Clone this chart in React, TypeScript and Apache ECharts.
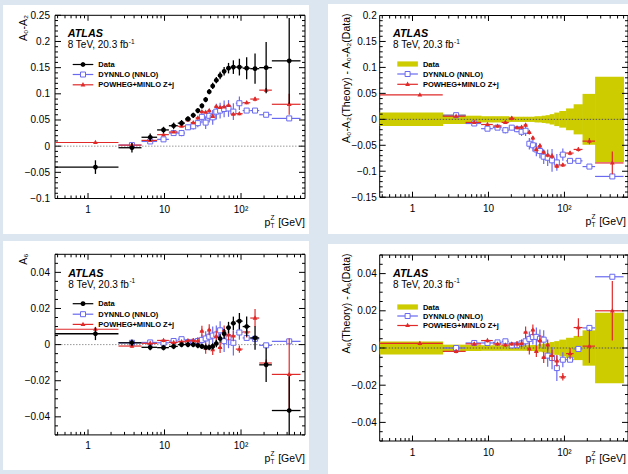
import React, { useEffect, useRef } from 'react';
import * as echarts from 'echarts';

// ---------- data ----------
const binEdges = [0, 2.5, 5, 8, 11.4, 14.9, 18.5, 22, 25.5, 29, 32.6, 36.4, 40.4, 44.9, 50.2, 56.4, 63.9, 73.4, 85.4, 105, 132, 173, 253, 600];
const binCenters = [1.25, 3.75, 6.5, 9.7, 13.15, 16.7, 20.25, 23.75, 27.25, 30.8, 34.5, 38.4, 42.65, 47.55, 53.3, 60.15, 68.65, 79.4, 95.2, 118.5, 152.5, 213, 426.5];

// A0-A2
const a02Data = [-0.040, -0.003, 0.017, 0.031, 0.039, 0.044, 0.052, 0.059, 0.068, 0.077, 0.089, 0.104, 0.115, 0.126, 0.135, 0.143, 0.149, 0.151, 0.151, 0.149, 0.148, 0.150, 0.163];
const a02DataErr = [0.013, 0.009, 0.007, 0.006, 0.006, 0.006, 0.005, 0.005, 0.005, 0.005, 0.005, 0.005, 0.006, 0.006, 0.007, 0.008, 0.010, 0.013, 0.016, 0.021, 0.029, 0.049, 0.082];
const a02Dynnlo = [null, 0.002, 0.009, 0.013, 0.025, 0.025, 0.036, 0.038, 0.044, 0.056, 0.045, 0.058, 0.055, 0.066, 0.068, 0.071, 0.072, 0.066, 0.082, 0.068, 0.068, 0.060, 0.053];
const a02DynnloErr = [null, 0.003, 0.003, 0.003, 0.004, 0.006, 0.005, 0.006, 0.008, 0.012, 0.012, 0.013, 0.014, 0.015, 0.015, 0.016, 0.016, 0.016, 0.013, 0.004, 0.004, 0.004, 0.003];
const a02Powheg = [0.007, 0.002, 0.011, 0.022, 0.027, 0.038, 0.050, 0.045, 0.054, 0.066, 0.065, 0.068, 0.057, 0.076, 0.074, 0.075, 0.078, 0.061, 0.062, 0.083, 0.090, 0.107, 0.080];
const a02PowhegErr = [0.002, 0.002, 0.002, 0.002, 0.002, 0.002, 0.002, 0.002, 0.002, 0.002, 0.002, 0.002, 0.002, 0.002, 0.002, 0.002, 0.003, 0.003, 0.003, 0.003, 0.004, 0.004, 0.020];
// A0-A2 (Theory) - (Data)
const a02DynnloDiff = [null, 0.008, -0.008, -0.018, -0.016, -0.021, -0.016, -0.019, -0.024, -0.022, -0.047, -0.050, -0.058, -0.061, -0.072, -0.074, -0.079, -0.083, -0.068, -0.080, -0.080, -0.091, -0.110];
const a02DynnloDiffErr = [null, 0.003, 0.003, 0.003, 0.004, 0.006, 0.005, 0.006, 0.008, 0.010, 0.011, 0.012, 0.013, 0.014, 0.014, 0.016, 0.022, 0.016, 0.012, 0.004, 0.004, 0.004, 0.003];
const a02PowhegDiff = [0.047, 0.006, -0.006, -0.010, -0.013, -0.006, 0.002, -0.016, -0.015, -0.011, -0.025, -0.036, -0.058, -0.051, -0.063, -0.069, -0.071, -0.090, -0.088, -0.065, -0.058, -0.042, -0.084];
const a02PowhegDiffErr = [0.002, 0.002, 0.002, 0.002, 0.003, 0.003, 0.004, 0.003, 0.003, 0.004, 0.004, 0.004, 0.004, 0.004, 0.004, 0.004, 0.005, 0.004, 0.004, 0.004, 0.004, 0.006, 0.022];

// A6
const a6Data = [0.006, 0.001, -0.0015, -0.0017, -0.001, 0, 0, 0, -0.0005, -0.001, -0.0015, -0.0015, -0.001, 0.0006, 0.0034, 0.006, 0.0094, 0.0118, 0.013, 0.010, 0.0037, -0.0112, -0.0365];
const a6DataErr = [0.0035, 0.0018, 0.0016, 0.0015, 0.0015, 0.0015, 0.0015, 0.0015, 0.0015, 0.0015, 0.0015, 0.0016, 0.0017, 0.002, 0.0023, 0.0027, 0.0032, 0.0037, 0.0045, 0.0055, 0.0065, 0.0095, 0.019];
const a6Dynnlo = [null, 0.001, 0.0012, 0.001, 0.002, 0.003, 0.0014, 0.0015, 0.002, 0.0026, 0.0034, 0.0044, 0.005, 0.0056, 0.0079, 0.0019, 0.004, 0.001, 0.0067, 0.0037, 0.0032, -0.0004, 0.0018];
const a6DynnloErr = [null, 0.0008, 0.0008, 0.001, 0.001, 0.001, 0.001, 0.0015, 0.002, 0.003, 0.004, 0.004, 0.005, 0.005, 0.005, 0.006, 0.006, 0.007, 0.004, 0.001, 0.001, 0.001, 0.001];
const a6Powheg = [0.0085, -0.0008, 0.0007, 0.0023, 0.0012, 0.0016, 0.0022, 0.0022, 0.002, 0.0075, -0.002, 0.0082, -0.0028, 0.0046, -0.0016, 0.0076, 0.0054, 0.0048, -0.0025, 0.007, 0.0147, -0.0102, -0.0165];
const a6PowhegErr = [0.001, 0.001, 0.001, 0.001, 0.001, 0.001, 0.001, 0.0015, 0.002, 0.003, 0.003, 0.003, 0.003, 0.003, 0.003, 0.003, 0.003, 0.003, 0.002, 0.003, 0.005, 0.002, 0.020];
// A6 (Theory) - (Data)
const a6DynnloDiff = [null, 0, 0.0027, 0.0027, 0.003, 0.0036, 0.0014, 0.0015, 0.0025, 0.0036, 0.0049, 0.0059, 0.006, 0.005, 0.0045, -0.0041, -0.0054, -0.0108, -0.0063, -0.0063, -0.0005, 0.0108, 0.0383];
const a6DynnloDiffErr = [null, 0.0008, 0.0008, 0.001, 0.001, 0.001, 0.001, 0.0015, 0.002, 0.003, 0.004, 0.004, 0.005, 0.005, 0.005, 0.006, 0.006, 0.007, 0.004, 0.001, 0.001, 0.001, 0.001];
const a6PowhegDiff = [0.0025, -0.0018, 0.0022, 0.004, 0.0022, 0.0016, 0.0022, 0.0022, 0.0025, 0.0085, -0.0005, 0.0097, -0.0018, 0.004, -0.005, 0.0016, -0.004, -0.007, -0.0155, -0.003, 0.011, 0.001, 0.020];
const a6PowhegDiffErr = [0.001, 0.001, 0.001, 0.001, 0.001, 0.001, 0.001, 0.0015, 0.002, 0.003, 0.003, 0.003, 0.003, 0.003, 0.003, 0.003, 0.003, 0.003, 0.002, 0.003, 0.005, 0.009, 0.016];

const legendNames = ['Data', 'DYNNLO (NNLO)', 'POWHEG+MINLO Z+j'];
const xTickLabels: Record<number, string> = { 1: '1', 10: '10', 100: '10²' };

// ---------- style ----------
const XMIN = 0.37;
const XMAX = 686;
const FONT = '"Liberation Sans", Arial, Helvetica, sans-serif';
const BG = '#dce6f1';
const BLUE = '#6a6af0';
const RED = '#e02a2a';
const YELLOW = '#cccc00';

type Item = number[];
function items(vals: (number | null)[], errs: (number | null)[]): Item[] {
  const out: Item[] = [];
  vals.forEach((v, i) => {
    if (v === null || v === undefined) return;
    out.push([binCenters[i], v, binEdges[i], binEdges[i + 1], (errs[i] as number) || 0]);
  });
  return out;
}

function markerCircle(p: number[]) {
  return { type: 'circle', shape: { cx: p[0], cy: p[1], r: 2.4 }, style: { fill: '#000' } };
}
function markerSquare(p: number[]) {
  return { type: 'rect', shape: { x: p[0] - 2.5, y: p[1] - 2.5, width: 5, height: 5 }, style: { fill: '#fff', stroke: BLUE, lineWidth: 1 } };
}
function markerTri(p: number[]) {
  return { type: 'polygon', shape: { points: [[p[0], p[1] - 2.7], [p[0] + 2.4, p[1] + 1.6], [p[0] - 2.4, p[1] + 1.6]] }, style: { fill: RED } };
}

function pointRenderer(barColor: string, marker: (p: number[]) => any, lw: number) {
  return (params: any, api: any) => {
    const cs = params.coordSys;
    const top = cs.y, bot = cs.y + cs.height;
    const cx = api.value(0), v = api.value(1), lo = api.value(2), hi = api.value(3), e = api.value(4);
    const p = api.coord([cx, v]);
    const xl = api.coord([Math.max(lo, XMIN), v])[0];
    const xh = api.coord([Math.min(hi, XMAX), v])[0];
    const yt = Math.max(top, api.coord([cx, v + e])[1]);
    const yb = Math.min(bot, api.coord([cx, v - e])[1]);
    const children: any[] = [];
    const inside = p[1] >= top && p[1] <= bot;
    if (inside) children.push({ type: 'line', shape: { x1: xl, y1: p[1], x2: xh, y2: p[1] }, style: { stroke: barColor, lineWidth: lw } });
    if (yb > yt) children.push({ type: 'line', shape: { x1: p[0], y1: yt, x2: p[0], y2: yb }, style: { stroke: barColor, lineWidth: lw } });
    if (inside) children.push(marker(p));
    return { type: 'group', children };
  };
}

function bandRenderer(params: any, api: any) {
  const cs = params.coordSys;
  const lo = Math.max(api.value(2), XMIN), hi = Math.min(api.value(3), XMAX), e = api.value(4);
  const a = api.coord([lo, e]);
  const b = api.coord([hi, -e]);
  const y1 = Math.max(cs.y, a[1]);
  const y2 = Math.min(cs.y + cs.height, b[1]);
  return { type: 'rect', shape: { x: a[0], y: y1, width: b[0] - a[0] + 0.4, height: y2 - y1 }, style: { fill: YELLOW } };
}

function xTickRenderer(params: any, api: any) {
  const cs = params.coordSys;
  const px = api.coord([api.value(0), 0])[0];
  const len = api.value(2) ? 5.5 : 3;
  const bot = cs.y + cs.height, top = cs.y;
  return {
    type: 'group', children: [
      { type: 'line', shape: { x1: px, y1: bot, x2: px, y2: bot - len }, style: { stroke: '#000', lineWidth: 1 } },
      { type: 'line', shape: { x1: px, y1: top, x2: px, y2: top + len }, style: { stroke: '#000', lineWidth: 1 } },
    ],
  };
}
function yTickRenderer(params: any, api: any) {
  const cs = params.coordSys;
  const py = api.coord([1, api.value(1)])[1];
  const len = api.value(2) ? 6 : 3;
  const l = cs.x, r = cs.x + cs.width;
  return {
    type: 'group', children: [
      { type: 'line', shape: { x1: l, y1: py, x2: l + len, y2: py }, style: { stroke: '#000', lineWidth: 1 } },
      { type: 'line', shape: { x1: r, y1: py, x2: r - len, y2: py }, style: { stroke: '#000', lineWidth: 1 } },
    ],
  };
}

function xTickData() {
  const out: number[][] = [];
  for (const dec of [0.1, 1, 10, 100]) {
    for (let k = 1; k <= 9; k++) {
      const v = dec * k;
      if (v >= XMIN && v <= XMAX) out.push([v, 0, k === 1 ? 1 : 0]);
    }
  }
  return out;
}
function yTickData(iFrom: number, iTo: number, step: number, every: number) {
  const out: number[][] = [];
  for (let i = iFrom; i <= iTo; i++) out.push([1, i * step, i % every === 0 ? 1 : 0]);
  return out;
}

function fmtY(v: number) {
  const r = Math.round(v * 10000) / 10000;
  if (Math.abs(r) < 1e-9) return '0';
  return r < 0 ? '\u2212' + String(-r) : String(r);
}

let measureCtx: CanvasRenderingContext2D | null = null;
function textWidth(text: string, size: number, weight = 'normal', style = 'normal') {
  if (!measureCtx) measureCtx = document.createElement('canvas').getContext('2d');
  if (!measureCtx) return text.length * size * 0.55;
  measureCtx.font = `${style} ${weight} ${size}px ${FONT}`;
  return measureCtx.measureText(text).width;
}

// ---------- graphic helpers ----------
function txt(x: number, y: number, text: string, size: number, extra: any = {}) {
  return {
    type: 'text', x, y, z: 100,
    style: {
      text, fontSize: size, fontFamily: FONT, fill: '#000',
      align: 'left', verticalAlign: 'middle', textAlign: 'left', textVerticalAlign: 'middle',
      ...extra,
    },
  };
}
function yTitle(x: number, y: number, text: string) {
  return {
    type: 'text', x, y, rotation: Math.PI / 2, z: 100,
    style: { text, fontSize: 10.5, fontFamily: FONT, fill: '#000', align: 'right', verticalAlign: 'middle', textAlign: 'right', textVerticalAlign: 'middle' },
  };
}
// right edge of the whole "pT [GeV]" title at xr
function ptTitle(xr: number, y: number) {
  const wGeV = textWidth('[GeV]', 10.5);
  const xg = xr - wGeV;
  const x = xg - 13.6;
  return [
    txt(x, y, 'p', 10.5),
    txt(x + 6, y - 4.2, 'Z', 6.5),
    txt(x + 6, y + 3.8, 'T', 6.5),
    txt(xg, y, '[GeV]', 10.5),
  ];
}
function atlas(x: number, y: number, dy: number) {
  const lumi = '8 TeV, 20.3 fb';
  const w = textWidth(lumi, 10);
  return [
    txt(x, y, 'ATLAS', 10.8, { fontWeight: 'bold', fontStyle: 'italic' }),
    txt(x, y + dy, lumi, 10),
    txt(x + w + 0.3, y + dy - 3.6, '-1', 6.5),
  ];
}
function legend(kind: 'pts' | 'band', x: number, rows: number[]) {
  const els: any[] = [];
  const w = 20.6, mx = x + w / 2, tx = x + 25.6;
  if (kind === 'pts') {
    els.push({ type: 'line', z: 100, shape: { x1: x, y1: rows[0], x2: x + w, y2: rows[0] }, style: { stroke: '#000', lineWidth: 1.2 } });
    els.push({ ...markerCircle([mx, rows[0]]), z: 101 });
  } else {
    els.push({ type: 'rect', z: 100, shape: { x, y: rows[0] - 2.6, width: w, height: 5.2 }, style: { fill: YELLOW } });
  }
  els.push({ type: 'line', z: 100, shape: { x1: x, y1: rows[1], x2: x + w, y2: rows[1] }, style: { stroke: BLUE, lineWidth: 1.2 } });
  els.push({ ...markerSquare([mx, rows[1]]), z: 101 });
  els.push({ type: 'line', z: 100, shape: { x1: x, y1: rows[2], x2: x + w, y2: rows[2] }, style: { stroke: RED, lineWidth: 1.2 } });
  els.push({ ...markerTri([mx, rows[2]]), z: 101 });
  legendNames.forEach((n, i) => els.push(txt(tx, rows[i], n, 7.5, { fontWeight: 'bold' })));
  return els;
}

function buildOption() {
  const grids = [
    { left: 55, top: 15.3, width: 250, height: 183.2 },
    { left: 379.7, top: 15.5, width: 250, height: 181.7 },
    { left: 55, top: 254.3, width: 250, height: 180.6 },
    { left: 379.7, top: 255, width: 250, height: 186 },
  ];
  const yRanges = [
    { min: -0.1, max: 0.25, interval: 0.05 },
    { min: -0.15, max: 0.2, interval: 0.05 },
    { min: -0.05, max: 0.05 },
    { min: -0.05, max: 0.05 },
  ];
  const xAxis = grids.map((_, i) => ({
    type: 'log', gridIndex: i, min: XMIN, max: XMAX, logBase: 10,
    axisLine: { show: false }, axisTick: { show: false }, splitLine: { show: false }, minorTick: { show: false },
    axisLabel: {
      show: true, margin: 6, fontSize: 10, fontFamily: FONT, color: '#000', showMinLabel: false, showMaxLabel: false,
      formatter: (v: number) => xTickLabels[Math.round(v)] && Math.abs(v - Math.round(v)) < 1e-6 ? xTickLabels[Math.round(v)] : '',
    },
  }));
  const yAxis = grids.map((_, i) => ({
    type: 'value', gridIndex: i, ...yRanges[i],
    axisLine: { show: false }, axisTick: { show: false }, splitLine: { show: false },
    axisLabel: {
      margin: i % 2 === 0 ? 5 : 3, fontSize: 10, fontFamily: FONT, color: '#000',
      formatter: (v: number) => (i >= 2 && Math.abs(v) > 0.045 ? '' : fmtY(v)),
    },
  }));

  const series: any[] = [];
  const zeroLine = (gi: number, color: string, z: number) => ({
    type: 'line', xAxisIndex: gi, yAxisIndex: gi, data: [[XMIN, 0], [XMAX, 0]], symbol: 'none', silent: true, z,
    lineStyle: { color, width: 1, type: [1.5, 1.5] },
  });
  const pts = (gi: number, name: string, data: Item[], color: string, marker: any, lw: number, z: number) => ({
    type: 'custom', name, xAxisIndex: gi, yAxisIndex: gi, data, z, silent: true,
    renderItem: pointRenderer(color, marker, lw),
  });
  const band = (gi: number, errs: number[]) => ({
    type: 'custom', name: 'Data', xAxisIndex: gi, yAxisIndex: gi, z: 1, silent: true,
    data: items(errs.map(() => 0), errs), renderItem: bandRenderer,
  });
  const ticks = (gi: number, yt: number[][]) => [
    { type: 'custom', xAxisIndex: gi, yAxisIndex: gi, data: xTickData(), renderItem: xTickRenderer, z: 10, silent: true },
    { type: 'custom', xAxisIndex: gi, yAxisIndex: gi, data: yt, renderItem: yTickRenderer, z: 10, silent: true },
  ];

  // panel 1: A0-A2
  series.push(zeroLine(0, '#999', 1));
  series.push(pts(0, 'DYNNLO (NNLO)', items(a02Dynnlo, a02DynnloErr), BLUE, markerSquare, 1.2, 3));
  series.push(pts(0, 'POWHEG+MINLO Z+j', items(a02Powheg, a02PowhegErr), RED, markerTri, 1.2, 4));
  series.push(pts(0, 'Data', items(a02Data, a02DataErr), '#000', markerCircle, 1.3, 5));
  series.push(...ticks(0, yTickData(-10, 25, 0.01, 5)));
  // panel 2: A0-A2 diff
  series.push(band(1, a02DataErr));
  series.push(zeroLine(1, '#555', 2));
  series.push(pts(1, 'DYNNLO (NNLO)', items(a02DynnloDiff, a02DynnloDiffErr), BLUE, markerSquare, 1.2, 3));
  series.push(pts(1, 'POWHEG+MINLO Z+j', items(a02PowhegDiff, a02PowhegDiffErr), RED, markerTri, 1.2, 4));
  series.push(...ticks(1, yTickData(-15, 20, 0.01, 5)));
  // panel 3: A6
  series.push(zeroLine(2, '#999', 1));
  series.push(pts(2, 'DYNNLO (NNLO)', items(a6Dynnlo, a6DynnloErr), BLUE, markerSquare, 1.2, 3));
  series.push(pts(2, 'POWHEG+MINLO Z+j', items(a6Powheg, a6PowhegErr), RED, markerTri, 1.2, 4));
  series.push(pts(2, 'Data', items(a6Data, a6DataErr), '#000', markerCircle, 1.3, 5));
  series.push(...ticks(2, yTickData(-10, 10, 0.005, 4)));
  // panel 4: A6 diff
  series.push(band(3, a6DataErr));
  series.push(zeroLine(3, '#555', 2));
  series.push(pts(3, 'DYNNLO (NNLO)', items(a6DynnloDiff, a6DynnloDiffErr), BLUE, markerSquare, 1.2, 3));
  series.push(pts(3, 'POWHEG+MINLO Z+j', items(a6PowhegDiff, a6PowhegDiffErr), RED, markerTri, 1.2, 4));
  series.push(...ticks(3, yTickData(-10, 10, 0.005, 4)));

  const panelsBg = [
    { x: 3, y: 5, w: 306, h: 229 },
    { x: 328, y: 4, w: 310, h: 230 },
    { x: 3, y: 241, w: 306, h: 229 },
    { x: 328, y: 244, w: 310, h: 240 },
  ].map((r) => ({ type: 'rect', z: -100, shape: { x: r.x, y: r.y, width: r.w, height: r.h }, style: { fill: '#fff' } }));

  const graphic: any[] = [
    ...panelsBg,
    ...atlas(67.7, 33.2, 11.6),
    ...atlas(393, 33.2, 11.6),
    ...atlas(68.3, 272.5, 11.6),
    ...atlas(393, 272.5, 11.6),
    ...legend('pts', 72.7, [64.5, 74.5, 84.8]),
    ...legend('band', 397.3, [64, 74, 84.3]),
    ...legend('pts', 72.7, [303.7, 314.2, 324.4]),
    ...legend('band', 397.3, [307, 316, 325.5]),
    yTitle(23.3, 15, 'A\u2080-A\u2082'),
    yTitle(345.7, 13.5, 'A\u2080-A\u2082(Theory) - A\u2080-A\u2082(Data)'),
    yTitle(23.3, 253.5, 'A\u2086'),
    yTitle(345.7, 253.5, 'A\u2086(Theory) - A\u2086(Data)'),
    ...ptTitle(305, 222),
    ...ptTitle(626, 220.5),
    ...ptTitle(305, 457.5),
    ...ptTitle(626, 457.5),
  ];

  return {
    animation: false,
    backgroundColor: BG,
    grid: grids.map((g) => ({ ...g, show: true, borderColor: '#000', borderWidth: 1, backgroundColor: 'transparent', containLabel: false })),
    xAxis,
    yAxis,
    series,
    graphic: { elements: graphic },
  };
}

export default function App() {
  const ref = useRef<HTMLDivElement>(null);
  useEffect(() => {
    const chart = echarts.init(ref.current as HTMLDivElement, null, { renderer: 'svg' });
    chart.setOption(buildOption() as any);
    return () => chart.dispose();
  }, []);
  return <div ref={ref} style={{ position: 'absolute', left: 0, top: 0, width: 628, height: 474 }} />;
}
